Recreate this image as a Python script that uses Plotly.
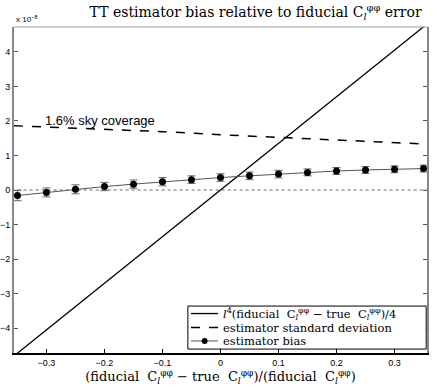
import plotly.graph_objects as go

# values in units of 1e-8
frac_x = [-0.35, -0.30, -0.25, -0.20, -0.15, -0.10, -0.05, 0.0,
          0.05, 0.10, 0.15, 0.20, 0.25, 0.30, 0.35]
bias = [-0.16, -0.07, 0.02, 0.10, 0.17, 0.24, 0.30, 0.36,
        0.41, 0.46, 0.51, 0.55, 0.58, 0.60, 0.62]
bias_err = [0.15, 0.13, 0.13, 0.12, 0.12, 0.12, 0.11, 0.11,
            0.11, 0.11, 0.10, 0.10, 0.10, 0.10, 0.10]

diff_x = [-0.36, 0.36]
diff_y = [-4.86, 4.86]

std_x = [-0.356, -0.2, -0.1, 0.0, 0.1, 0.2, 0.356]
std_y = [1.86, 1.76, 1.69, 1.60, 1.52, 1.44, 1.33]

yticks = [-4, -3, -2, -1, 0, 1, 2, 3, 4]
xticks = [-0.3, -0.2, -0.1, 0.0, 0.1, 0.2, 0.3]
xtick_text = ["−0.3", "−0.2", "−0.1", "0", "0.1", "0.2", "0.3"]
ytick_text = ["−4", "−3", "−2", "−1", "0", "1", "2", "3", "4"]

cl = "C<sub><i>l</i></sub><sup>φφ</sup>"
serif = "DejaVu Serif"
sans = "Liberation Sans"

legend_labels = [
    f"<i>l</i><sup>4</sup>(fiducial  {cl} − true  {cl})/4",
    "estimator standard deviation",
    "estimator bias",
]

fig = go.Figure()

# zero reference line
fig.add_trace(go.Scatter(
    x=[-0.36, 0.36], y=[0, 0], mode="lines",
    line=dict(color="#666666", width=1, dash="dot"),
    showlegend=False, hoverinfo="skip",
))

fig.add_trace(go.Scatter(
    x=diff_x, y=diff_y, mode="lines",
    line=dict(color="black", width=1.3),
    name=legend_labels[0], showlegend=False,
))

fig.add_trace(go.Scatter(
    x=std_x, y=std_y, mode="lines",
    line=dict(color="black", width=1.5, dash="dash"),
    name=legend_labels[1], showlegend=False,
))

fig.add_trace(go.Scatter(
    x=frac_x, y=bias, mode="lines+markers",
    line=dict(color="#555555", width=1),
    marker=dict(color="black", size=7),
    error_y=dict(type="data", array=bias_err, color="#666666",
                 thickness=1, width=4),
    name=legend_labels[2], showlegend=False,
))

fig.add_annotation(
    x=-0.306, y=2.0, xref="x", yref="y", text="1.6% sky coverage",
    showarrow=False, xanchor="left", yanchor="middle",
    font=dict(family=sans, size=13, color="black"),
)
fig.add_annotation(
    x=0.0, y=1.0, xref="paper", yref="paper", text="x 10<sup>−8</sup>",
    showarrow=False, xanchor="left", yanchor="bottom", yshift=1,
    font=dict(family=sans, size=8, color="black"),
)

# thin top border
fig.add_shape(type="line", xref="paper", yref="paper", x0=0, x1=1, y0=1, y1=1,
              line=dict(color="#999999", width=1))

# MATLAB-style legend box in the lower right corner
fig.add_shape(type="rect", xref="paper", yref="paper",
              x0=0.421, x1=0.998, y0=0.012, y1=0.144,
              line=dict(color="black", width=1), fillcolor="white", layer="above")
rows = [0.121, 0.078, 0.037]
styles = [dict(color="black", width=1.3),
          dict(color="black", width=1.5, dash="dash"),
          dict(color="#555555", width=1)]
for row, style, label in zip(rows, styles, legend_labels):
    fig.add_shape(type="line", xref="paper", yref="paper",
                  x0=0.4286, x1=0.494, y0=row, y1=row, line=style, layer="above")
    fig.add_annotation(
        x=0.501, y=row, xref="paper", yref="paper", text=label,
        showarrow=False, xanchor="left", yanchor="middle",
        font=dict(family=serif, size=11.5, color="black"),
    )
fig.add_shape(type="circle", xref="paper", yref="paper",
              xsizemode="pixel", ysizemode="pixel",
              xanchor=0.4615, yanchor=rows[2], x0=-3, x1=3, y0=-3, y1=3,
              fillcolor="black", line=dict(color="black", width=0), layer="above")

fig.update_layout(
    width=437, height=388,
    margin=dict(l=14, r=10, t=27, b=35, autoexpand=False),
    plot_bgcolor="white", paper_bgcolor="white",
    showlegend=False,
    title=dict(
        text=f"TT estimator bias relative to fiducial {cl} error",
        x=0.585, xref="paper", xanchor="center",
        y=0.968, yref="container", yanchor="middle",
        font=dict(family=serif, size=14, color="black"),
    ),
    xaxis=dict(
        range=[-0.356, 0.356], tickvals=xticks, ticktext=xtick_text,
        ticks="inside", ticklen=4, tickcolor="black",
        showline=True, linecolor="black", linewidth=2, mirror=False,
        showgrid=False, zeroline=False, automargin=False,
        tickfont=dict(family=sans, size=9, color="black"),
        title=dict(
            text=f"(fiducial  {cl} − true  {cl})/(fiducial  {cl})",
            font=dict(family=serif, size=13, color="black"), standoff=2,
        ),
    ),
    yaxis=dict(
        range=[-4.72, 4.72], tickvals=yticks, ticktext=ytick_text,
        ticks="inside", ticklen=4, tickcolor="#555555",
        showline=True, linecolor="#888888", linewidth=2, mirror="ticks",
        showgrid=False, zeroline=False, automargin=False,
        tickfont=dict(family=sans, size=9, color="black"),
    ),
)

fig.write_html("out.html", config={"displayModeBar": False},
               post_script="document.body.style.margin = '0';")
